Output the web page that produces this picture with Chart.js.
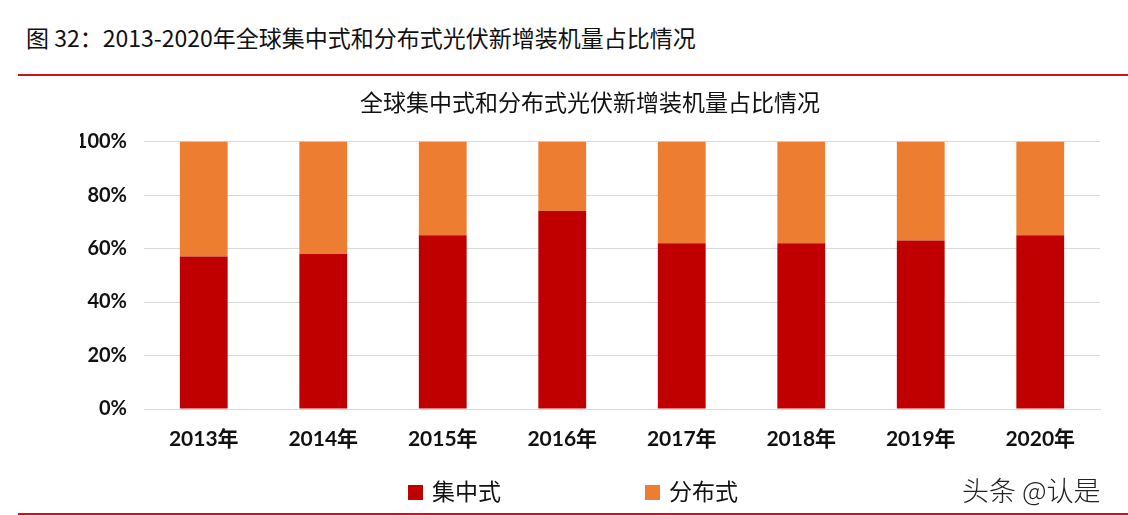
<!DOCTYPE html>
<html>
<head>
<meta charset="utf-8">
<title>全球集中式和分布式光伏新增装机量占比情况</title>
<script src="https://cdn.jsdelivr.net/npm/chart.js@4/dist/chart.umd.min.js"></script>
<style>
body { margin: 0; background: #fff; }
.page { position: relative; width: 1128px; height: 515px; overflow: hidden; }
.header {
  position: absolute; left: 26px; top: 20px;
  font-family: "Noto Sans CJK SC", sans-serif;
  font-size: 23px; font-weight: normal; color: #111; white-space: nowrap;
}
.rule { position: absolute; left: 18px; right: 0; height: 2px; background: #d0101b; }
#chart { position: absolute; left: 0; top: 0; }
.legend {
  position: absolute; top: 476px; left: 408px;
  font-family: "Noto Sans CJK SC", sans-serif; font-size: 23px; color: #111;
}
.legend span { position: absolute; white-space: nowrap; line-height: 28px; }
.legend i { display: inline-block; width: 15px; height: 15px; margin-right: 9px; vertical-align: 0px; }
.mark {
  position: absolute; left: 962px; top: 470px;
  font-family: "Noto Sans CJK SC", sans-serif; font-size: 27px; font-weight: 300; color: #222;
}
</style>
</head>
<body>
<div class="page">
  <div class="header">图 32：2013-2020年全球集中式和分布式光伏新增装机量占比情况</div>
  <div class="rule" style="top:74px"></div>
  <canvas id="chart" width="1128" height="515"></canvas>
  <div class="legend" id="legend"></div>
  <div class="mark">头条 @认是</div>
  <div class="rule" style="top:513px"></div>
</div>
<script>
// data
const years = ["2013年", "2014年", "2015年", "2016年", "2017年", "2018年", "2019年", "2020年"];
const centralized = [57, 58, 65, 74, 62, 62, 63, 65];   // 集中式 %
const distributed = [43, 42, 35, 26, 38, 38, 37, 35];   // 分布式 %
const yTicks = [0, 20, 40, 60, 80, 100];

const seriesNames = ["集中式", "分布式"];
const colors = ["#c00000", "#ed7d31"];

const tickFont = { family: "Lato, 'Noto Sans CJK SC', sans-serif", size: 20, weight: "bold" };

const config = {
  type: "bar",
  data: {
    labels: years,
    datasets: [
      { label: seriesNames[0], data: centralized, backgroundColor: colors[0], categoryPercentage: 0.4, barPercentage: 1 },
      { label: seriesNames[1], data: distributed, backgroundColor: colors[1], categoryPercentage: 0.4, barPercentage: 1 },
    ],
  },
  options: {
    responsive: false,
    animation: false,
    layout: { padding: { left: 80, right: 28, top: 88, bottom: 56 } },
    plugins: {
      legend: { display: false },
      tooltip: { enabled: false },
      title: {
        display: true,
        text: "全球集中式和分布式光伏新增装机量占比情况",
        color: "#111",
        font: { family: "'Noto Sans CJK SC', sans-serif", size: 23, weight: "normal", lineHeight: 1.2 },
        padding: { top: 0, bottom: 26 },
      },
    },
    scales: {
      x: {
        stacked: true,
        grid: { display: false, drawTicks: false },
        border: { display: true, color: "#d9d9d9", width: 1 },
        ticks: { color: "#111", font: { ...tickFont, size: 21 }, padding: 18 },
        afterFit: (s) => { s.height = 50; },
      },
      y: {
        stacked: true,
        min: 0,
        max: 100,
        afterBuildTicks: (s) => { s.ticks = yTicks.map((v) => ({ value: v })); },
        grid: { color: "#d9d9d9", lineWidth: 1, drawTicks: false },
        border: { display: false },
        ticks: { color: "#111", font: tickFont, padding: 17, callback: (v) => v + "%" },
        afterFit: (s) => { s.width = 64; },
      },
    },
  },
};

const chart = new Chart(document.getElementById("chart").getContext("2d"), config);

// legend built from the datasets
const legend = document.getElementById("legend");
const legendX = [0, 237];
seriesNames.forEach((name, i) => {
  const el = document.createElement("span");
  el.style.left = legendX[i] + "px";
  el.innerHTML = '<i style="background:' + colors[i] + '"></i>' + name;
  legend.appendChild(el);
});
</script>
</body>
</html>
